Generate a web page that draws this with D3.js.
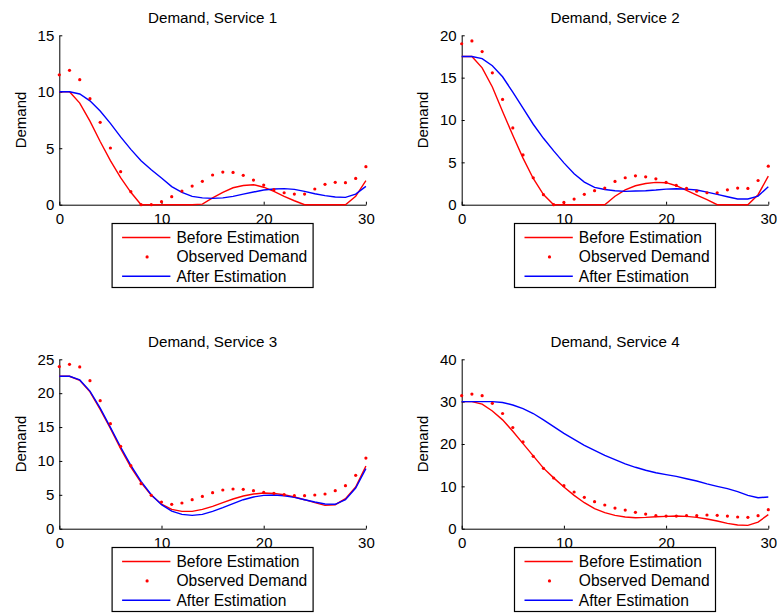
<!DOCTYPE html>
<meta charset="utf-8">
<style>
body { margin: 0; background: #fff; }
text { font-family: "Liberation Sans", Arial, sans-serif; fill: #000; }
.axis text { font-size: 15px; }
.axis path, .axis line { stroke: #000; }
</style>
<svg width="777" height="614"></svg>
<script src="https://d3js.org/d3.v7.min.js"></script>
<script>

var time = [0,1,2,3,4,5,6,7,8,9,10,11,12,13,14,15,16,17,18,19,20,21,22,23,24,25,26,27,28,29,30];

var titles = ["Demand, Service 1", "Demand, Service 2", "Demand, Service 3", "Demand, Service 4"];
var yMax = [15, 20, 25, 40];
var yTicks = [[0,5,10,15], [0,5,10,15,20], [0,5,10,15,20,25], [0,10,20,30,40]];
var xTicks = [0, 10, 20, 30];
var legendLabels = ["Before Estimation", "Observed Demand", "After Estimation"];

var before1 = [10,10,9.0,7.4,5.6,3.9,2.4,1.1,0,0,0,0,0,0,0.05,0.6,1.1,1.5,1.7,1.77,1.55,1.18,0.74,0.35,0,0,0,0,0,0.74,2.13];
var observed1 = [11.5,11.9,11.07,9.39,7.29,5.02,2.92,1.15,0,0,0.27,0.71,1.21,1.65,2.07,2.63,2.89,2.86,2.6,2.18,1.74,1.33,1.06,0.94,0.94,1.39,1.8,1.98,1.95,2.33,3.37];
var after1 = [10,10,9.8,9.2,8.3,7.2,6.0,4.9,3.9,3.1,2.36,1.6,1.09,0.74,0.6,0.56,0.6,0.74,0.94,1.12,1.3,1.39,1.42,1.36,1.18,0.97,0.8,0.68,0.65,0.94,1.62];

var before2 = [17.5,17.5,16.16,13.9,11.0,8.2,5.5,3.1,1.2,0,0,0,0,0,0,1.0,1.76,2.24,2.5,2.63,2.6,2.24,1.69,1.14,0.59,0,0,0,0,1.18,3.37];
var observed2 = [19.0,19.33,18.08,15.57,12.43,9.06,5.88,3.18,1.18,0,0.27,0.67,1.22,1.65,1.96,2.75,3.18,3.41,3.29,3.06,2.63,2.27,1.92,1.6,1.41,1.41,1.76,1.96,1.92,2.86,4.55];
var after2 = [17.5,17.5,17.25,16.4,15.1,13.3,11.4,9.5,7.84,6.35,4.94,3.65,2.67,2.04,1.8,1.65,1.57,1.61,1.65,1.73,1.84,1.88,1.84,1.73,1.49,1.22,0.94,0.67,0.67,1.02,2.12];

var before3 = [22.5,22.5,21.9,20.2,17.6,14.8,11.8,9.1,6.8,4.92,3.64,2.85,2.56,2.56,2.85,3.3,3.84,4.38,4.82,5.12,5.27,5.22,5.02,4.68,4.28,3.84,3.44,3.54,4.43,6.15,9.25];
var observed3 = [23.92,24.26,23.87,21.85,18.9,15.5,12.16,9.3,6.64,4.92,3.94,3.6,3.79,4.28,4.77,5.31,5.71,5.86,5.81,5.61,5.36,5.22,5.02,4.87,4.87,4.97,5.12,5.61,6.35,7.87,10.43];
var after3 = [22.5,22.5,21.95,20.3,17.8,14.96,12.06,9.35,6.99,5.02,3.54,2.6,2.12,1.97,2.12,2.56,3.1,3.69,4.28,4.68,4.92,4.97,4.87,4.63,4.28,3.94,3.64,3.6,4.28,6.0,8.86];

var before4 = [30,30,29.4,27.8,25.7,23.0,20.1,17.2,14.3,12.0,9.84,7.87,6.14,4.72,3.78,3.15,2.76,2.6,2.68,2.83,2.91,2.99,2.91,2.68,2.28,1.81,1.26,0.87,0.79,1.57,3.31];
var observed4 = [31.4,31.8,31.4,29.6,27.2,23.9,20.5,17.1,14.25,11.97,10.16,8.66,7.4,6.38,5.6,4.88,4.4,3.86,3.46,3.07,2.99,2.99,3.07,3.07,3.23,3.15,2.99,2.76,2.68,3.07,4.49];
var after4 = [30,30,30,30,29.8,29.2,28.35,27.2,25.7,24.1,22.5,21.1,19.7,18.5,17.3,16.3,15.3,14.5,13.8,13.2,12.76,12.36,11.8,11.26,10.6,10.0,9.45,8.74,7.87,7.32,7.48];

var befores = [before1, before2, before3, before4];
var observeds = [observed1, observed2, observed3, observed4];
var afters = [after1, after2, after3, after4];

var svg = d3.select("svg");
svg.append("rect").attr("width", 777).attr("height", 614).attr("fill", "#fff");

var lefts = [59.3, 461.7, 59.3, 461.7],
    tops = [35.3, 35.3, 359.3, 359.3],
    w = 306.6,
    h = 169.4;

titles.forEach(function(title, k) {
  var g = svg.append("g").attr("transform", "translate(" + lefts[k] + "," + tops[k] + ")");

  var x = d3.scaleLinear().domain([0, 30]).range([0, w]);
  var y = d3.scaleLinear().domain([0, yMax[k]]).range([h, 0]);

  g.append("g")
      .attr("class", "axis")
      .attr("transform", "translate(0," + h + ")")
      .call(d3.axisBottom(x).tickValues(xTicks).tickSizeInner(-3).tickSizeOuter(0).tickPadding(9))
      .call(function(a) { a.selectAll("text").attr("font-family", null); });

  g.append("g")
      .attr("class", "axis")
      .call(d3.axisLeft(y).tickValues(yTicks[k]).tickSizeInner(-3).tickSizeOuter(0).tickPadding(5))
      .call(function(a) { a.selectAll("text").attr("font-family", null); });

  g.append("text")
      .attr("x", w / 2)
      .attr("y", -12.5)
      .attr("text-anchor", "middle")
      .style("font-size", "15.2px")
      .text(title);

  g.append("text")
      .attr("transform", "translate(-38.6," + (h / 2) + ") rotate(-90)")
      .attr("text-anchor", "middle")
      .attr("dy", "0.35em")
      .style("font-size", "15px")
      .text("Demand");

  var line = d3.line()
      .x(function(d, i) { return x(time[i]); })
      .y(function(d) { return y(d); });

  g.append("path")
      .attr("d", line(befores[k]))
      .attr("fill", "none")
      .attr("stroke", "#ff0000")
      .attr("stroke-width", 1.4);

  g.append("path")
      .attr("d", line(afters[k]))
      .attr("fill", "none")
      .attr("stroke", "#0000ff")
      .attr("stroke-width", 1.4);

  g.selectAll(".dot")
    .data(observeds[k])
    .enter().append("circle")
      .attr("class", "dot")
      .attr("cx", function(d, i) { return x(time[i]); })
      .attr("cy", function(d) { return y(d); })
      .attr("r", 1.6)
      .attr("fill", "#ff0000");

  // legend box under each axes
  var lg = g.append("g").attr("transform", "translate(" + (w / 2 - 100.5) + "," + (h + 18.8) + ")");
  lg.append("rect")
      .attr("width", 201)
      .attr("height", 64)
      .attr("fill", "#fff")
      .attr("stroke", "#000")
      .attr("stroke-width", 1.2);

  var rows = [14, 33.4, 52.7];
  legendLabels.forEach(function(lbl, j) {
    if (j === 1) {
      lg.append("circle").attr("cx", 35).attr("cy", rows[j]).attr("r", 1.6).attr("fill", "#ff0000");
    } else {
      lg.append("line")
          .attr("x1", 10).attr("x2", 58.3)
          .attr("y1", rows[j]).attr("y2", rows[j])
          .attr("stroke", j === 0 ? "#ff0000" : "#0000ff")
          .attr("stroke-width", 1.4);
    }
    lg.append("text")
        .attr("x", 64.3)
        .attr("y", rows[j])
        .attr("dy", "0.35em")
        .style("font-size", "15.6px")
        .text(lbl);
  });
});

</script>
